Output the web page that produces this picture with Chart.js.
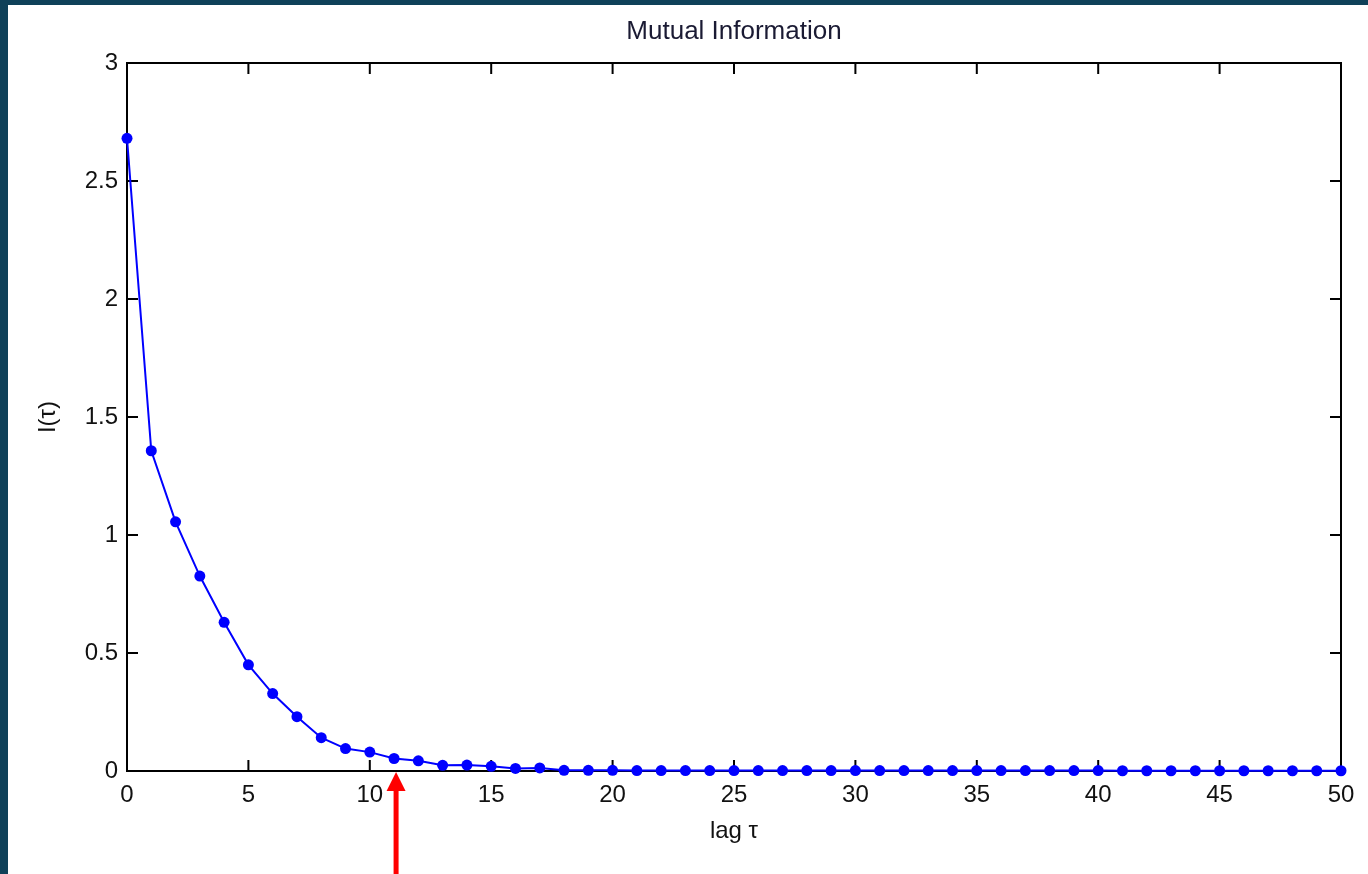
<!DOCTYPE html>
<html lang="en">
<head>
  <meta charset="UTF-8">
  <title>Mutual Information</title>
  <script src="https://cdn.jsdelivr.net/npm/chart.js"></script>
  <style>
    body { margin: 0; background: #fff; }
    #wrap { position: relative; width: 1368px; height: 874px; overflow: hidden; }
    #frame {
      position: absolute; left: 0; top: 0; right: 0; bottom: 0;
      border-left: 8px solid #0f4159; border-top: 5px solid #0f4159;
      pointer-events: none;
    }
  </style>
</head>
<body>
  <div id="wrap">
    <canvas id="miChart" width="1368" height="874"></canvas>
    <div id="frame"></div>
  </div>

  <script>
    const chartTitle = 'Mutual Information';
    const lags = [0, 1, 2, 3, 4, 5, 6, 7, 8, 9, 10, 11, 12, 13, 14, 15, 16, 17, 18, 19, 20,
      21, 22, 23, 24, 25, 26, 27, 28, 29, 30, 31, 32, 33, 34, 35, 36, 37, 38, 39, 40,
      41, 42, 43, 44, 45, 46, 47, 48, 49, 50];
    const mutualInfo = [2.681, 1.357, 1.056, 0.826, 0.630, 0.450, 0.328, 0.230, 0.141, 0.095, 0.080,
      0.053, 0.043, 0.024, 0.025, 0.020, 0.011, 0.013, 0.003, 0.003, 0.003,
      0.002, 0.002, 0.002, 0.002, 0.002, 0.002, 0.002, 0.002, 0.002, 0.002,
      0.002, 0.002, 0.002, 0.002, 0.002, 0.002, 0.002, 0.002, 0.002, 0.002,
      0.001, 0.001, 0.001, 0.001, 0.001, 0.001, 0.001, 0.001, 0.001, 0.001];
    const xRange = [0, 50];
    const yRange = [0, 3];
    const xStep = 5;
    const yStep = 0.5;
    const markedLag = 11; // red arrow

    const FONT = 'Liberation Sans, Arial, sans-serif';

    // matlab style box with inward ticks on all four sides, title over the axes box
    const matlabAxes = {
      id: 'matlabAxes',
      beforeDatasetsDraw(chart) {
        const { ctx, chartArea: a, scales: { x, y } } = chart;
        const tl = 11;
        ctx.save();
        ctx.strokeStyle = '#000';
        ctx.lineWidth = 2;
        ctx.beginPath();
        x.ticks.forEach(t => {
          const px = x.getPixelForValue(t.value);
          ctx.moveTo(px, a.bottom); ctx.lineTo(px, a.bottom - tl);
          ctx.moveTo(px, a.top); ctx.lineTo(px, a.top + tl);
        });
        y.ticks.forEach(t => {
          const py = y.getPixelForValue(t.value);
          ctx.moveTo(a.left, py); ctx.lineTo(a.left + tl, py);
          ctx.moveTo(a.right, py); ctx.lineTo(a.right - tl, py);
        });
        ctx.stroke();
        ctx.strokeRect(a.left, a.top, a.right - a.left, a.bottom - a.top);

        ctx.fillStyle = '#1a1a33';
        ctx.font = '26px ' + FONT;
        ctx.textAlign = 'center';
        ctx.textBaseline = 'middle';
        ctx.fillText(chartTitle, (a.left + a.right) / 2, a.top - 31);
        ctx.restore();
      },
      afterDraw(chart) {
        const { ctx, chartArea: a, scales: { x } } = chart;
        const px = x.getPixelForValue(markedLag) + 2;
        const tip = a.bottom + 1;
        ctx.save();
        ctx.fillStyle = '#ff0000';
        ctx.fillRect(px - 2.5, tip + 16, 5, chart.height - tip - 16);
        ctx.beginPath();
        ctx.moveTo(px, tip);
        ctx.lineTo(px - 9.5, tip + 19);
        ctx.lineTo(px + 9.5, tip + 19);
        ctx.closePath();
        ctx.fill();
        ctx.restore();
      }
    };

    const ctx = document.getElementById('miChart').getContext('2d');
    new Chart(ctx, {
      type: 'line',
      data: {
        datasets: [{
          data: lags.map((l, i) => ({ x: l, y: mutualInfo[i] })),
          borderColor: '#0000ff',
          backgroundColor: '#0000ff',
          borderWidth: 2,
          pointRadius: 5.5,
          pointBorderWidth: 0,
          tension: 0,
          clip: false
        }]
      },
      options: {
        responsive: false,
        animation: false,
        devicePixelRatio: 1,
        layout: { padding: { left: 0, right: 27, top: 63, bottom: 0 } },
        plugins: {
          legend: { display: false },
          tooltip: { enabled: false },
          title: { display: false }
        },
        scales: {
          x: {
            type: 'linear',
            min: xRange[0], max: xRange[1],
            afterFit: s => { s.height = 103; },
            grid: { display: false, drawTicks: false },
            border: { display: false },
            ticks: {
              stepSize: xStep, color: '#111', padding: 10, maxRotation: 0,
              font: { family: FONT, size: 24 },
              callback: v => String(v)
            },
            title: {
              display: true, text: 'lag τ', color: '#111',
              font: { family: FONT, size: 24 },
              padding: { top: 0, bottom: 28 }
            }
          },
          y: {
            type: 'linear',
            min: yRange[0], max: yRange[1],
            afterFit: s => { s.width = 127; },
            grid: { display: false, drawTicks: false },
            border: { display: false },
            ticks: {
              stepSize: yStep, color: '#111', padding: 9,
              font: { family: FONT, size: 24 },
              callback: v => String(v)
            },
            title: {
              display: true, text: 'I(τ)', color: '#111',
              font: { family: FONT, size: 24 },
              padding: { top: 34, bottom: 0 }
            }
          }
        }
      },
      plugins: [matlabAxes]
    });
  </script>
</body>
</html>
